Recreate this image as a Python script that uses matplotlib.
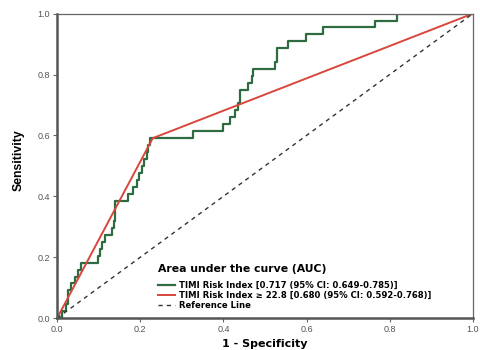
import matplotlib
matplotlib.use("Agg")
import matplotlib.pyplot as plt

# ROC corner points (top of each vertical step) for the continuous score
fpr_score = [0.0, 0.012, 0.022, 0.027, 0.034, 0.043, 0.051, 0.058, 0.099, 0.103,
             0.109, 0.114, 0.131, 0.136, 0.139, 0.171, 0.183, 0.192, 0.198, 0.204,
             0.209, 0.216, 0.219, 0.224, 0.326, 0.400, 0.416, 0.428, 0.436, 0.440,
             0.460, 0.468, 0.472, 0.524, 0.530, 0.556, 0.598, 0.639, 0.764, 0.817,
             1.0]
tpr_score = [0.0, 0.023, 0.045, 0.091, 0.114, 0.136, 0.159, 0.182, 0.205, 0.227,
             0.250, 0.273, 0.295, 0.318, 0.386, 0.409, 0.432, 0.455, 0.477, 0.500,
             0.523, 0.545, 0.568, 0.591, 0.614, 0.636, 0.659, 0.682, 0.705, 0.750,
             0.773, 0.795, 0.818, 0.841, 0.886, 0.909, 0.932, 0.955, 0.977, 1.0,
             1.0]

# dichotomised cut-off (>= 22.8)
fpr_cut = [0.0, 0.23, 1.0]
tpr_cut = [0.0, 0.591, 1.0]

label_score = "TIMI Risk Index [0.717 (95% CI: 0.649-0.785)]"
label_cut = "TIMI Risk Index \u2265 22.8 [0.680 (95% CI: 0.592-0.768)]"
label_ref = "Reference Line"
ticks = [0.0, 0.2, 0.4, 0.6, 0.8, 1.0]

plt.rcParams["font.family"] = ["Liberation Sans", "DejaVu Sans"]

fig = plt.figure(figsize=(4.8, 3.5), dpi=100)
ax = fig.add_axes([0.119, 0.091, 0.866, 0.870])

ax.step(fpr_score, tpr_score, where="post", color="#2f6b40", lw=1.6, label=label_score)
ax.plot(fpr_cut, tpr_cut, color="#d8463c", lw=1.4, label=label_cut)
ax.plot([0, 1], [0, 1], color="#333333", lw=1.0, ls=(0, (3, 3)), label=label_ref)

ax.set_xlim(0, 1)
ax.set_ylim(0, 1)
ax.set_xticks(ticks)
ax.set_yticks(ticks)
ax.set_xticklabels([f"{t:.1f}" for t in ticks])
ax.set_yticklabels([f"{t:.1f}" for t in ticks])
ax.tick_params(direction="out", length=3, width=0.8, colors="#666666",
               labelsize=6.5, labelcolor="#555555", pad=2)

for side in ["left", "bottom"]:
    ax.spines[side].set_linewidth(1.8)
    ax.spines[side].set_color("#555555")
for side in ["top", "right"]:
    ax.spines[side].set_linewidth(0.9)
    ax.spines[side].set_color("#666666")

ax.set_xlabel("1 - Specificity", fontsize=8, fontweight="bold",
              family="DejaVu Sans")
ax.xaxis.set_label_coords(0.5, -0.068)
ax.set_ylabel("Sensitivity", fontsize=8.8, fontweight="bold")
ax.yaxis.set_label_coords(-0.077, 0.52)

leg = ax.legend(loc="lower left", bbox_to_anchor=(0.232, 0.012), frameon=False,
                title="Area under the curve (AUC)", alignment="left",
                prop={"family": "DejaVu Sans", "size": 6.1, "weight": "bold"},
                title_fontproperties={"family": "DejaVu Sans", "size": 7.8,
                                      "weight": "bold"},
                borderpad=0, labelspacing=0.12, handlelength=2.0,
                handletextpad=0.5)
leg._legend_box.sep = 5

fig.savefig("out.png", dpi=100)
